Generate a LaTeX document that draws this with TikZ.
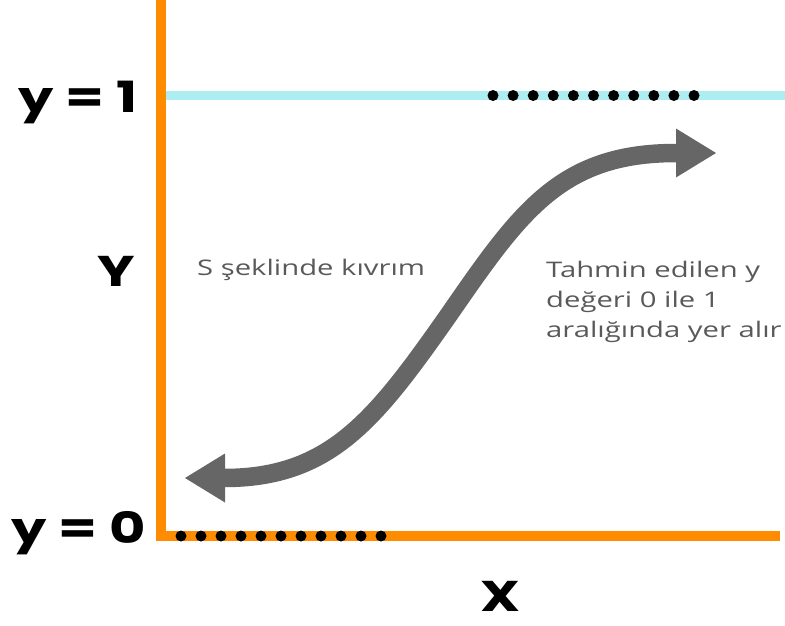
\documentclass[tikz,border=0pt]{standalone}
\usepackage{fontspec}
\usepackage{graphicx}
\setmainfont{Open Sans}
\newfontfamily\headfont{Poppins}[UprightFont=* Bold]
\definecolor{axisorange}{HTML}{FF8C00}
\definecolor{limitcyan}{HTML}{AEEEF2}
\definecolor{curvegray}{HTML}{666666}
\definecolor{textgray}{HTML}{595959}
\newcommand{\widebig}[1]{\scalebox{1.3}[1]{#1}}
\newcommand{\widenote}[1]{\scalebox{1.36}[1]{#1}}
\begin{document}
\begin{tikzpicture}[x=1pt,y=-1pt,
  bigl/.style={font=\headfont\fontsize{43}{46}\selectfont, text=black, inner sep=0pt},
  note/.style={font=\fontsize{21.5}{30}\selectfont, text=textgray, inner sep=0pt},
  dotmark/.style={fill=black, draw=none},
  axisline/.style={draw=axisorange, line width=9.5pt},
  limitline/.style={draw=limitcyan, line width=9pt},
  sarrow/.style={draw=curvegray, line width=18.5pt},
  ahead/.style={fill=curvegray, draw=none}]
\useasboundingbox (0,0) rectangle (785,626);
% lines
\coordinate (o) at (161,536);
\coordinate (top) at (161,0);
\coordinate (right) at (780,536);
\coordinate (c1) at (166,95.5);
\coordinate (c2) at (785,95.5);
\draw[limitline] (c1) -- (c2);
\draw[axisline] (top) -- (o) -- (right);
% dots
\foreach \i in {0,...,10} {
  \fill[dotmark] (493+20.1*\i,95.5) circle (5.5pt);
  \fill[dotmark] (181+20*\i,536) circle (5.5pt);
}
% S curve
\coordinate (sa) at (224,478);
\coordinate (sm) at (448,316);
\coordinate (sb) at (676,153);
\draw[sarrow] (sa) .. controls (330,478) and (375,420) .. (sm)
  .. controls (520,212) and (560,153) .. (sb);
\fill[ahead] (676,128.5) -- (716,153) -- (676,177.5) -- cycle;
\fill[ahead] (225,453.5) -- (185,478) -- (225,502.5) -- cycle;
% labels
\node[bigl, anchor=base west] (y1) at (18,112) {\widebig{y = 1}};
\node[bigl, anchor=base west] (y0) at (11,543) {\widebig{y = 0}};
\node[bigl, anchor=base] (ylab) at (116,286) {\widebig{Y}};
\node[bigl, anchor=base, text depth=0pt] (xlab) at (500,611) {\widebig{X}};
\node[note, anchor=base west] (s) at (197,275) {\widenote{S şeklinde kıvrım}};
\node[note, anchor=base west] (t) at (546,337) {\widenote{\begin{tabular}[b]{@{}l@{}}Tahmin edilen y\\değeri 0 ile 1\\aralığında yer alır\end{tabular}}};
\end{tikzpicture}
\end{document}
